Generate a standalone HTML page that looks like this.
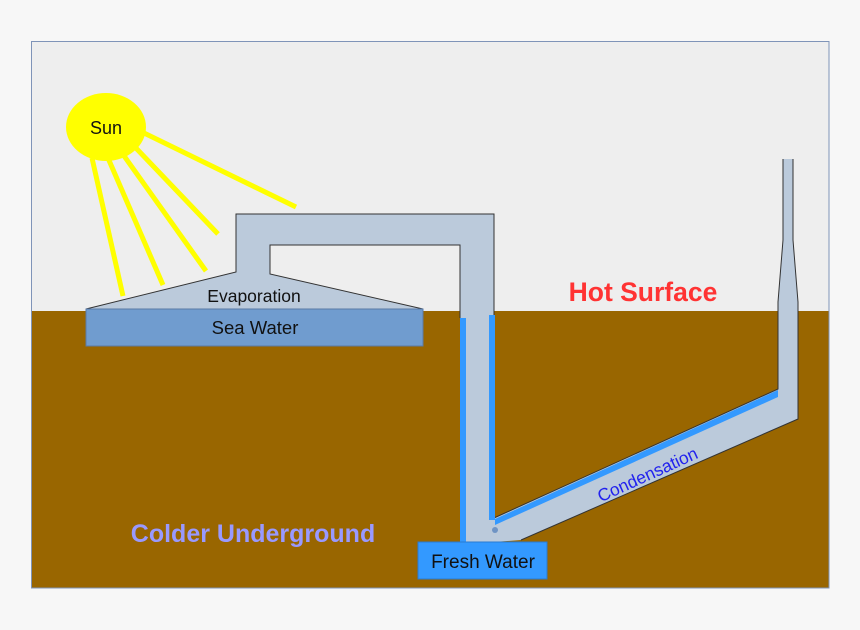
<!DOCTYPE html>
<html><head><meta charset="utf-8"><style>body{margin:0;background:#f7f7f7}svg{display:block}text{font-family:"Liberation Sans",sans-serif}</style></head>
<body>
<svg width="860" height="630" viewBox="0 0 860 630">
<rect x="0" y="0" width="860" height="630" fill="#f7f7f7"/>
<rect x="31" y="41" width="798" height="270" fill="#eeeeee"/>
<rect x="31" y="311" width="798" height="277" fill="#996600"/>
<rect x="31.5" y="41.5" width="797.5" height="546.5" fill="none" stroke="#7f94b8" stroke-width="1"/>
<g stroke="#ffff00" stroke-width="5" stroke-linecap="butt">
<line x1="92" y1="158" x2="123" y2="296"/>
<line x1="108" y1="158" x2="163" y2="285"/>
<line x1="122" y1="153" x2="206" y2="271"/>
<line x1="134" y1="146" x2="218" y2="234"/>
<line x1="144" y1="133" x2="296" y2="207"/>
</g>
<ellipse cx="106" cy="127" rx="40" ry="34" fill="#ffff00"/>
<text x="106" y="134" font-size="18" text-anchor="middle" fill="#111">Sun</text>
<path d="M86,309 L236,272 L236,214 L494,214 L494,542 L460,542 L460,245 L270,245 L270,274 L423,309 Z" fill="#bbcadb"/>
<path d="M86,309 L236,272 L236,214 L494,214 L494,318" fill="none" stroke="#333" stroke-width="1"/>
<path d="M460,318 L460,245 L270,245 L270,274 L423,309" fill="none" stroke="#333" stroke-width="1"/>
<path d="M494,518 L778,389 L778,302 L783,240 L783,159 L793,159 L793,240 L798,302 L798,419 L521,540 L494,542 Z" fill="#bbcadb"/>
<path d="M494,518 L778,389 L778,302 L783,240 L783,159 M793,159 L793,240 L798,302 L798,419 L521,540" fill="none" stroke="#333" stroke-width="1"/>
<path d="M495,519 L778,390 L778,397 L495,525 Z" fill="#3399ff"/>
<rect x="460" y="318" width="6" height="224" fill="#3399ff"/>
<rect x="489" y="315" width="6" height="205" fill="#3399ff"/>
<rect x="86" y="309" width="337" height="37" fill="#709ccf" stroke="#5a7aa6" stroke-width="1"/>
<text x="254" y="302" font-size="17.5" text-anchor="middle" fill="#111">Evaporation</text>
<text x="255" y="334" font-size="18.5" text-anchor="middle" fill="#111">Sea Water</text>
<circle cx="495" cy="530" r="3" fill="#6f94c4"/>
<rect x="418" y="542" width="129" height="37" fill="#3399ff" stroke="#2a7ad0" stroke-width="1"/>
<text x="483" y="568" font-size="19" text-anchor="middle" fill="#111">Fresh Water</text>
<text x="643" y="301" font-size="26.5" font-weight="bold" text-anchor="middle" fill="#ff3333">Hot Surface</text>
<text x="253" y="542" font-size="25" font-weight="bold" text-anchor="middle" fill="#9999ff">Colder Underground</text>
<text x="0" y="0" font-size="17.5" text-anchor="middle" fill="#2222ee" transform="translate(650,480) rotate(-24.5)">Condensation</text>
</svg>
</body></html>
